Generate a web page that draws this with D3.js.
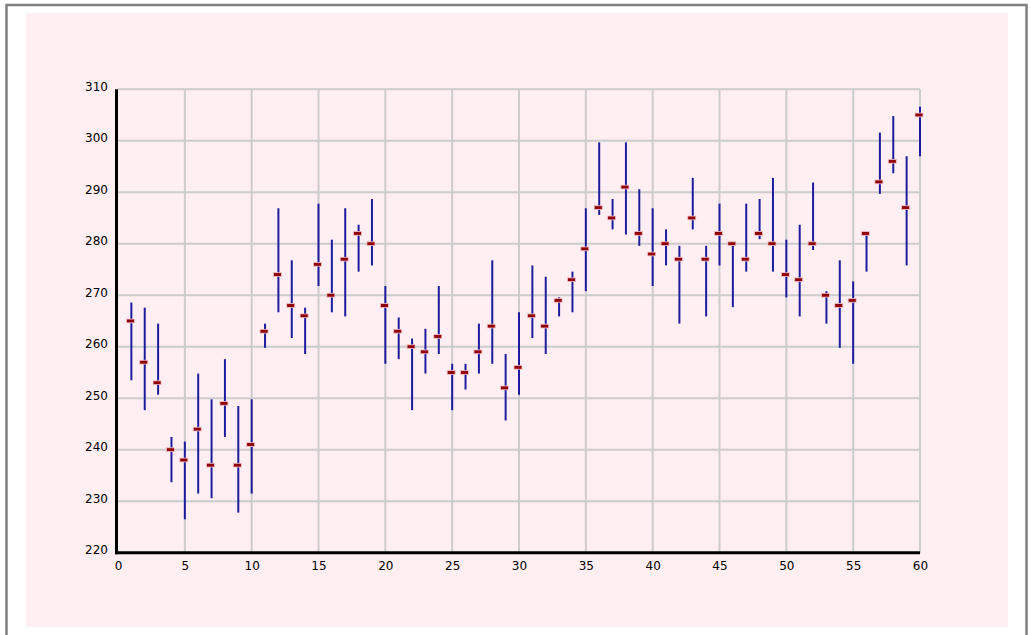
<!DOCTYPE html>
<html>
<head>
<meta charset="utf-8">
<script src="https://cdn.jsdelivr.net/npm/d3@7"></script>
<style>
  html, body { margin: 0; padding: 0; background: #ffffff; }
  svg { display: block; }
  text { font-family: "DejaVu Sans", Verdana, sans-serif; font-size: 12px; fill: #000; }
</style>
</head>
<body>
<svg id="chart" width="1031" height="635"></svg>
<script>
// ---- data ----
const xs    = d3.range(1, 61);
const highs = [268.6,267.6,264.5,242.5,241.6,254.8,249.8,257.6,248.5,249.8,
               264.5,286.9,276.8,267.6,287.8,280.8,286.9,283.7,288.7,271.8,
               265.7,261.6,263.5,271.8,256.7,256.7,264.5,276.8,258.6,266.7,
               275.8,273.6,269.6,274.6,286.9,299.7,288.7,299.7,290.6,286.9,
               282.8,279.6,292.8,279.6,287.8,280.0,287.8,288.7,292.8,280.8,
               283.7,291.9,270.8,276.8,272.7,282.0,301.6,304.8,297.0,306.6];
const lows  = [253.5,247.7,250.7,233.7,226.5,231.5,230.6,242.5,227.8,231.5,
               259.8,266.7,261.7,258.6,271.8,266.7,265.9,274.6,275.8,256.7,
               257.6,247.7,254.8,258.6,247.7,251.7,254.8,256.7,245.7,250.7,
               261.7,258.6,265.9,266.7,270.8,285.6,282.8,281.8,279.6,271.8,
               275.8,264.5,282.8,265.9,275.8,267.7,274.6,280.9,274.6,269.6,
               265.9,278.8,264.5,259.8,256.7,274.6,289.7,293.7,275.8,297.0];
const closes= [265,257,253,240,238,244,237,249,237,241,
               263,274,268,266,276,270,277,282,280,268,
               263,260,259,262,255,255,259,264,252,256,
               266,264,269,273,279,287,285,291,282,278,
               280,277,285,277,282,280,277,282,280,274,
               273,280,270,268,269,282,292,296,287,305];
const xTicks = d3.range(0, 61, 5);
const yTicks = d3.range(220, 311, 10);

// ---- layout ----
const svg = d3.select("#chart");
const x = d3.scaleLinear().domain([0, 60]).range([118, 920]);
const y = d3.scaleLinear().domain([220, 310]).range([552.8, 89.3]);

// outer frame
svg.append("rect").attr("x", 6.5).attr("y", 5).attr("width", 1020).attr("height", 640)
  .attr("fill", "#ffffff").attr("stroke", "#808080").attr("stroke-width", 2.5);
// pink panel
svg.append("rect").attr("x", 26).attr("y", 13).attr("width", 982).attr("height", 614)
  .attr("fill", "#ffeef2");

// grid
const grid = svg.append("g").attr("stroke", "#cccccc").attr("stroke-width", 2);
grid.selectAll("line.v").data(xTicks.filter(d => d > 0)).join("line")
  .attr("x1", d => x(d)).attr("x2", d => x(d))
  .attr("y1", y(310)).attr("y2", y(220));
grid.selectAll("line.h").data(yTicks.filter(d => d > 220)).join("line")
  .attr("x1", x(0)).attr("x2", x(60))
  .attr("y1", d => y(d)).attr("y2", d => y(d));

// axes lines
svg.append("line").attr("x1", x(0) - 1.5).attr("x2", x(0) - 1.5)
  .attr("y1", y(310)).attr("y2", y(220) + 1.5)
  .attr("stroke", "#000").attr("stroke-width", 3);
svg.append("line").attr("x1", x(0) - 3).attr("x2", x(60))
  .attr("y1", y(220)).attr("y2", y(220))
  .attr("stroke", "#000").attr("stroke-width", 3);

// axis labels via d3 axes
const yAxis = d3.axisLeft(y).tickValues(yTicks).tickSize(0).tickPadding(0).tickFormat(d3.format("d"));
const gy = svg.append("g").attr("transform", `translate(${x(0) - 10},-3)`).call(yAxis);
gy.select(".domain").remove();
gy.selectAll("text").style("font-family", "DejaVu Sans, Verdana, sans-serif").style("font-size", "12px").attr("fill", "#000");

const xAxis = d3.axisBottom(x).tickValues(xTicks).tickSize(0).tickPadding(0).tickFormat(d3.format("d"));
const gx = svg.append("g").attr("transform", `translate(0,${y(220) + 9})`).call(xAxis);
gx.select(".domain").remove();
gx.selectAll("text").style("font-family", "DejaVu Sans, Verdana, sans-serif").style("font-size", "12px").attr("fill", "#000");

// data
const data = xs.map((d, i) => ({x: d, hi: highs[i], lo: lows[i], c: closes[i]}));
svg.append("g").selectAll("line").data(data).join("line")
  .attr("x1", d => x(d.x)).attr("x2", d => x(d.x))
  .attr("y1", d => y(d.hi)).attr("y2", d => y(d.lo))
  .attr("stroke", "#1c1c9c").attr("stroke-width", 2);
svg.append("g").selectAll("rect").data(data).join("rect")
  .attr("x", d => x(d.x) - 5).attr("y", d => y(d.c) - 2)
  .attr("width", 8).attr("height", 3.8)
  .attr("fill", "#8f0000").attr("stroke", "#f4c4cc").attr("stroke-width", 0.8);
</script>
</body>
</html>
